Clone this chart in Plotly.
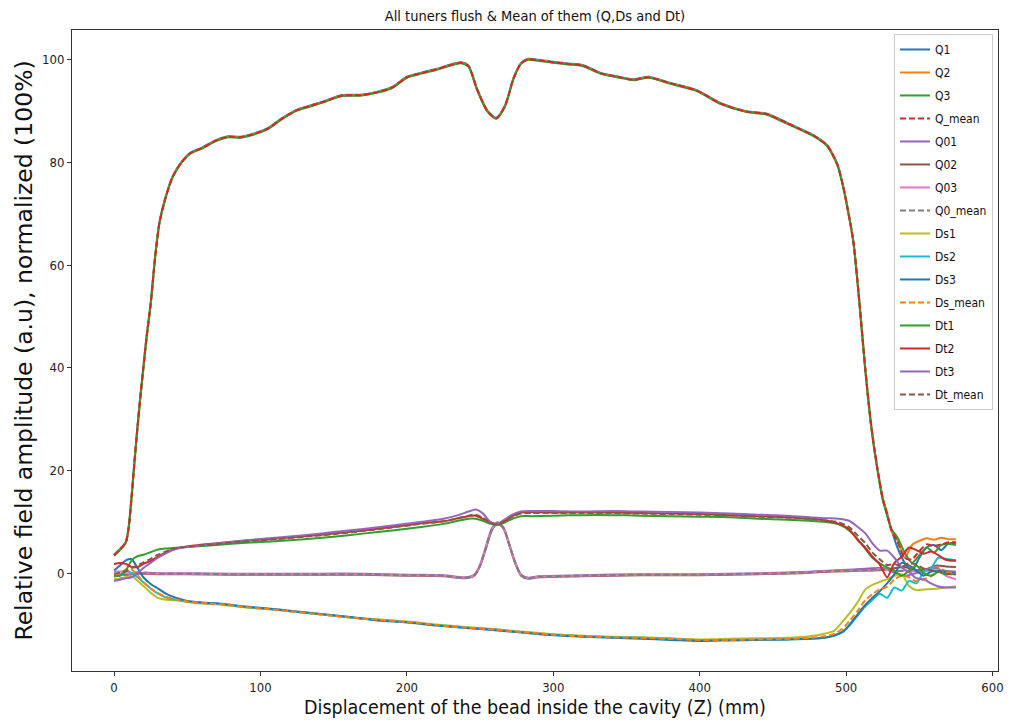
import plotly.graph_objects as go

# ---------------- data ----------------
title_text = "All tuners flush & Mean of them (Q,Ds and Dt)"
x_label = "Displacement of the bead inside the cavity (Z) (mm)"
y_label = "Relative field amplitude (a.u), normalized (100%)"
x_ticks = [0, 100, 200, 300, 400, 500, 600]
y_ticks = [0, 20, 40, 60, 80, 100]

# Q group (tuners flush, main field profile)
x_q = [0, 4, 8, 10, 12, 14, 16, 18, 20, 22,
       25, 28, 31, 35, 40, 46, 52, 60, 70, 78,
       86, 95, 105, 115, 125, 135, 145, 155, 168, 180,
       190, 200, 210, 220, 230, 237, 242, 248, 255, 261,
       267, 273, 278, 283, 290, 300, 310, 320, 332, 345,
       355, 365, 380, 398, 414, 432, 446, 460, 470, 478,
       487, 494, 498, 502, 505, 509, 513, 517, 521, 525,
       528, 531, 535, 540, 545, 550, 555, 560, 565, 570,
       575]
Q1 = [3.6, 4.7, 6.1, 9.1, 15.2, 22.2, 28.7, 34.7, 40.2, 45.7,
      52.7, 61.6, 68.4, 73.1, 77.3, 80.1, 81.9, 82.9, 84.4, 85.1,
      85.0, 85.6, 86.7, 88.7, 90.3, 91.2, 92.1, 93.1, 93.2, 93.8,
      94.7, 96.7, 97.5, 98.2, 99.1, 99.5, 98.9, 94.3, 90.1, 88.7,
      91.1, 96.6, 99.4, 100.2, 100.0, 99.6, 99.3, 99.0, 97.5, 96.7,
      96.2, 96.7, 95.5, 94.1, 91.6, 90.0, 89.5, 87.7, 86.4, 85.3,
      83.4, 79.7, 75.4, 69.6, 64.6, 53.2, 40.2, 29.2, 21.2, 14.6,
      11.3, 8.5, 5.0, 2.0, 0.5, 3.0, 5.0, 5.5, 4.5, 5.8,
      5.8]
Q2 = [3.5, 4.6, 6.0, 9.0, 15.0, 22.0, 28.5, 34.5, 40.0, 45.5,
      52.5, 61.5, 68.3, 73.0, 77.2, 80.0, 81.8, 82.8, 84.3, 85.0,
      84.9, 85.5, 86.6, 88.6, 90.2, 91.1, 92.0, 93.0, 93.1, 93.7,
      94.6, 96.6, 97.4, 98.1, 99.0, 99.4, 98.8, 94.2, 90.0, 88.6,
      91.0, 96.5, 99.3, 100.1, 99.9, 99.5, 99.2, 98.9, 97.4, 96.6,
      96.1, 96.6, 95.4, 94.0, 91.5, 89.9, 89.4, 87.6, 86.3, 85.2,
      83.3, 79.6, 75.3, 69.5, 64.5, 53.0, 40.0, 29.0, 21.0, 14.7,
      11.8, 8.2, 6.5, 3.0, 5.5, 6.3, 6.8, 6.5, 6.9, 6.6,
      6.6]
Q3 = [3.4, 4.5, 5.9, 8.9, 14.8, 21.8, 28.3, 34.3, 39.8, 45.3,
      52.3, 61.4, 68.2, 72.9, 77.1, 79.9, 81.7, 82.7, 84.2, 84.9,
      84.8, 85.4, 86.5, 88.5, 90.1, 91.0, 91.9, 92.9, 93.0, 93.6,
      94.5, 96.5, 97.3, 98.0, 98.9, 99.3, 98.7, 94.1, 89.9, 88.5,
      90.9, 96.4, 99.2, 100.0, 99.8, 99.4, 99.1, 98.8, 97.3, 96.5,
      96.0, 96.5, 95.3, 93.9, 91.4, 89.8, 89.3, 87.5, 86.2, 85.1,
      83.2, 79.5, 75.2, 69.4, 64.4, 52.8, 39.8, 28.8, 20.8, 14.3,
      11.4, 8.5, 7.0, 4.0, 2.0, 3.5, 5.0, 4.0, 5.5, 5.7,
      5.5]
Q_mean = [3.5, 4.6, 6.0, 9.0, 15.0, 22.0, 28.5, 34.5, 40.0, 45.5,
          52.5, 61.5, 68.3, 73.0, 77.2, 80.0, 81.8, 82.8, 84.3, 85.0,
          84.9, 85.5, 86.6, 88.6, 90.2, 91.1, 92.0, 93.0, 93.1, 93.7,
          94.6, 96.6, 97.4, 98.1, 99.0, 99.4, 98.8, 94.2, 90.0, 88.6,
          91.0, 96.5, 99.3, 100.1, 99.9, 99.5, 99.2, 98.9, 97.4, 96.6,
          96.1, 96.6, 95.4, 94.0, 91.5, 89.9, 89.4, 87.6, 86.3, 85.2,
          83.3, 79.6, 75.3, 69.5, 64.5, 53.0, 40.0, 29.0, 21.0, 14.5,
          11.5, 8.4, 6.2, 3.0, 2.7, 4.3, 5.6, 5.3, 5.6, 6.0,
          6.0]

# Q0 group
x_q0 = [0, 5, 10, 15, 20, 30, 50, 80, 110, 140,
        170, 200, 225, 240, 246, 250, 254, 258, 262, 266,
        270, 274, 278, 283, 290, 320, 360, 400, 440, 470,
        490, 505, 515, 525, 532, 540, 548, 555, 562, 568,
        575]
Q01 = [-1.5, -1.0, -0.8, -0.2, 0.1, 0.0, 0.0, -0.1, -0.1, -0.1,
       -0.1, -0.3, -0.4, -0.8, -0.3, 1.6, 5.2, 8.7, 9.9, 8.9,
       5.6, 2.1, -0.3, -0.9, -0.6, -0.4, -0.2, -0.2, 0.0, 0.2,
       0.5, 0.7, 0.9, 1.0, 0.2, -0.5, 0.0, 0.5, 0.3, 0.4,
       0.3]
Q02 = [-0.3, -0.2, -0.3, 0.0, -0.1, -0.2, -0.2, -0.3, -0.3, -0.3,
       -0.3, -0.5, -0.6, -1.0, -0.5, 1.4, 4.8, 8.3, 9.7, 8.7,
       5.4, 1.9, -0.5, -1.1, -0.8, -0.6, -0.4, -0.4, -0.2, 0.0,
       0.3, 0.4, 0.5, 0.6, 0.9, 1.2, 0.6, 0.8, 1.5, 1.3,
       1.2]
Q03 = [0.3, 0.3, -0.1, 0.2, 0.0, -0.1, -0.1, -0.2, -0.2, -0.2,
       -0.2, -0.4, -0.5, -0.9, -0.4, 1.5, 5.0, 8.5, 9.8, 8.8,
       5.5, 2.0, -0.4, -1.0, -0.7, -0.5, -0.3, -0.3, -0.1, 0.1,
       0.4, 0.5, 0.4, 0.8, 0.4, 0.5, 0.3, 0.5, 1.2, -0.5,
       -1.2]
Q0_mean = [-0.5, -0.3, -0.4, 0.0, 0.0, -0.1, -0.1, -0.2, -0.2, -0.2,
           -0.2, -0.4, -0.5, -0.9, -0.4, 1.5, 5.0, 8.5, 9.8, 8.8,
           5.5, 2.0, -0.4, -1.0, -0.7, -0.5, -0.3, -0.3, -0.1, 0.1,
           0.4, 0.5, 0.6, 0.8, 0.5, 0.4, 0.3, 0.6, 1.0, 0.4,
           0.1]

# Ds group
x_ds = [0, 4, 8, 12, 16, 20, 25, 30, 36, 42,
        50, 60, 75, 90, 105, 120, 140, 160, 180, 200,
        220, 240, 260, 280, 300, 320, 340, 360, 380, 400,
        420, 440, 460, 475, 485, 492, 498, 503, 508, 513,
        518, 523, 528, 533, 538, 543, 548, 553, 558, 563,
        568, 575]
Ds1 = [-1.0, -1.2, -0.8, -0.5, -1.5, -2.5, -3.8, -4.8, -5.2, -5.3,
       -5.6, -5.9, -6.2, -6.7, -7.0, -7.4, -8.0, -8.6, -9.0, -9.4,
       -10.0, -10.5, -10.9, -11.4, -11.9, -12.2, -12.4, -12.5, -12.7, -12.9,
       -12.8, -12.7, -12.6, -12.3, -11.8, -11.2, -9.3, -7.6, -5.6, -3.2,
       -2.3, -1.7, -1.2, -0.5, -0.2, -2.5, -3.3, -3.2, -3.1, -3.0,
       -2.8, -2.6]
Ds2 = [-0.5, -0.3, 0.5, 0.0, -0.8, -1.8, -3.0, -4.0, -4.8, -5.2,
       -5.5, -5.8, -6.1, -6.6, -7.0, -7.4, -8.0, -8.6, -9.1, -9.5,
       -10.1, -10.6, -11.0, -11.5, -12.0, -12.3, -12.5, -12.6, -12.8, -13.0,
       -13.0, -12.9, -12.9, -12.8, -12.6, -12.2, -11.3, -10.0, -8.2, -6.5,
       -5.2, -4.0, -4.8, -2.8, -3.4, -1.5, -2.0, 0.2, 1.0, 3.0,
       2.8, 2.5]
Ds3 = [0.5, 1.5, 2.5, 2.7, 1.0, -0.8, -2.1, -3.0, -4.1, -4.8,
       -5.4, -5.7, -6.0, -6.5, -6.9, -7.3, -7.9, -8.5, -9.2, -9.6,
       -10.2, -10.7, -11.1, -11.6, -12.1, -12.4, -12.6, -12.8, -13.0, -13.2,
       -13.1, -13.0, -12.9, -12.8, -12.6, -12.1, -11.4, -9.8, -8.0, -6.2,
       -4.8, -3.5, -2.0, -0.2, 2.0, 1.5, 0.5, -0.5, 0.3, 0.5,
       0.2, 0.0]
Ds_mean = [-0.3, 0.0, 0.7, 0.7, -0.4, -1.7, -3.0, -3.9, -4.7, -5.1,
           -5.5, -5.8, -6.1, -6.6, -7.0, -7.4, -8.0, -8.6, -9.1, -9.5,
           -10.1, -10.6, -11.0, -11.5, -12.0, -12.3, -12.5, -12.6, -12.8, -13.0,
           -13.0, -12.9, -12.8, -12.6, -12.3, -11.8, -10.7, -9.1, -7.3, -5.3,
           -4.1, -3.1, -2.7, -1.2, -0.5, -0.8, -1.6, -1.2, -0.6, 0.2,
           0.1, 0.0]

# Dt group
x_dt = [0, 4, 8, 12, 16, 20, 25, 30, 35, 40,
        45, 55, 70, 90, 110, 130, 150, 170, 190, 210,
        225, 235, 242, 247, 252, 257, 262, 267, 272, 278,
        285, 300, 320, 340, 360, 380, 400, 420, 440, 460,
        475, 485, 495, 502, 508, 513, 518, 523, 528, 533,
        538, 543, 548, 553, 558, 563, 568, 575]
Dt1 = [-0.5, -0.5, 0.5, 2.5, 3.3, 3.6, 4.1, 4.6, 4.8, 4.9,
       5.0, 5.2, 5.5, 5.9, 6.2, 6.6, 7.1, 7.7, 8.3, 9.0,
       9.6, 10.2, 10.6, 10.6, 10.2, 9.6, 9.4, 9.9, 10.6, 11.1,
       11.1, 11.2, 11.3, 11.3, 11.2, 11.1, 11.0, 10.9, 10.6, 10.4,
       10.2, 10.0, 9.5, 8.3, 6.6, 4.8, 3.0, 1.9, 1.1, 0.5,
       -0.5, 0.5, 1.5, 0.0, -0.5, 0.2, -0.2, -0.2]
Dt2 = [1.8, 2.0, 1.8, 1.2, 1.2, 1.8, 2.4, 3.2, 4.0, 4.6,
       5.0, 5.4, 5.8, 6.3, 6.7, 7.2, 7.7, 8.3, 9.0, 9.7,
       10.1, 10.7, 11.1, 11.2, 10.6, 9.9, 9.6, 10.2, 11.1, 11.8,
       11.9, 11.8, 11.8, 11.8, 11.7, 11.6, 11.5, 11.3, 11.1, 10.9,
       10.6, 10.3, 9.6, 8.6, 6.4, 5.0, 3.2, 1.7, -0.8, 2.0,
       3.2, 5.0, 4.5, 3.8, 4.2, 3.5, 2.6, 2.4]
Dt3 = [-1.5, -1.3, -1.0, -0.8, 0.0, 1.0, 2.0, 3.0, 3.8, 4.5,
       4.9, 5.3, 5.8, 6.4, 6.9, 7.4, 8.0, 8.6, 9.3, 10.0,
       10.6, 11.3, 12.0, 12.4, 11.6, 10.0, 9.6, 10.5, 11.4, 12.0,
       12.1, 12.1, 12.0, 12.1, 12.0, 11.9, 11.8, 11.6, 11.4, 11.2,
       10.9, 10.7, 10.6, 10.2, 9.0, 7.8, 5.8, 4.4, 4.4, 3.0,
       1.1, 0.2, -1.0, -1.2, -2.0, -2.6, -2.8, -2.8]
Dt_mean = [-0.1, 0.1, 0.4, 1.0, 1.5, 2.1, 2.8, 3.6, 4.2, 4.7,
           5.0, 5.3, 5.7, 6.2, 6.6, 7.1, 7.6, 8.2, 8.9, 9.6,
           10.1, 10.7, 11.2, 11.4, 10.8, 9.8, 9.5, 10.2, 11.0, 11.6,
           11.7, 11.7, 11.7, 11.7, 11.6, 11.5, 11.4, 11.3, 11.0, 10.8,
           10.6, 10.3, 9.9, 9.0, 7.3, 5.9, 4.0, 2.7, 1.6, 1.8,
           1.3, 1.9, 1.7, 0.9, 0.6, 0.4, -0.1, -0.2]

# ---------------- styling ----------------
C = ["#1f77b4", "#ff7f0e", "#2ca02c", "#d62728", "#9467bd",
     "#8c564b", "#e377c2", "#7f7f7f", "#bcbd22", "#17becf"]

series = [
    ("Q1", x_q, Q1, C[0], "solid"),
    ("Q2", x_q, Q2, C[1], "solid"),
    ("Q3", x_q, Q3, C[2], "solid"),
    ("Q_mean", x_q, Q_mean, C[3], "dash"),
    ("Q01", x_q0, Q01, C[4], "solid"),
    ("Q02", x_q0, Q02, C[5], "solid"),
    ("Q03", x_q0, Q03, C[6], "solid"),
    ("Q0_mean", x_q0, Q0_mean, C[7], "dash"),
    ("Ds1", x_ds, Ds1, C[8], "solid"),
    ("Ds2", x_ds, Ds2, C[9], "solid"),
    ("Ds3", x_ds, Ds3, C[0], "solid"),
    ("Ds_mean", x_ds, Ds_mean, C[1], "dash"),
    ("Dt1", x_dt, Dt1, C[2], "solid"),
    ("Dt2", x_dt, Dt2, C[3], "solid"),
    ("Dt3", x_dt, Dt3, C[4], "solid"),
    ("Dt_mean", x_dt, Dt_mean, C[5], "dash"),
]

NARROW = "Liberation Sans Narrow, DejaVu Sans Condensed, Arial Narrow, sans-serif"

# The page body has an 8px default margin, so the figure is sized and
# laid out to land the plot frame where the reference has it.
FIG_W, FIG_H = 1017, 720
L, R, T, B = 64, 27, 22, 57

fig = go.Figure()
for name, xs, ys, col, dash in series:
    fig.add_trace(go.Scatter(
        x=xs, y=ys, name=name, mode="lines", legendgroup=name,
        line=dict(color=col, width=2, dash=("6px,3px" if dash == "dash" else "solid"),
                  shape="spline", smoothing=0.7),
    ))

fig.update_layout(
    width=FIG_W, height=FIG_H,
    margin=dict(l=L, r=R, t=T, b=B, autoexpand=False),
    paper_bgcolor="white", plot_bgcolor="white",
    title=dict(text=title_text, x=(L + (FIG_W - R)) / 2 / FIG_W, xanchor="center",
               y=1 - 8 / FIG_H, yanchor="middle",
               font=dict(family=NARROW, size=14.5, color="#111")),
    showlegend=True,
    legend=dict(x=0.9946, xanchor="right", y=0.9938, yanchor="top",
                bgcolor="rgba(255,255,255,0.85)", bordercolor="#cccccc", borderwidth=1,
                font=dict(family=NARROW, size=12, color="#111"),
                itemwidth=30, tracegroupgap=4, traceorder="grouped"),
    xaxis=dict(range=[-28.75, 603.75], tickvals=x_ticks, showgrid=False, zeroline=False,
               automargin=False,
               showline=True, mirror=True, linecolor="#333", linewidth=1,
               ticks="outside", ticklen=4, tickcolor="#333",
               tickfont=dict(family=NARROW, size=13, color="#222"),
               title=dict(text=x_label, standoff=6,
                          font=dict(family=NARROW, size=19.5, color="#111"))),
    yaxis=dict(range=[-19.06, 105.8], tickvals=y_ticks, showgrid=False, zeroline=False,
               automargin=False,
               showline=True, mirror=True, linecolor="#333", linewidth=1,
               ticks="outside", ticklen=4, tickcolor="#333",
               tickfont=dict(family=NARROW, size=13, color="#222"),
               title=dict(text=y_label, standoff=2,
                          font=dict(family="DejaVu Sans", size=23.5, color="#111"))),
)

fig.write_html("out.html")
